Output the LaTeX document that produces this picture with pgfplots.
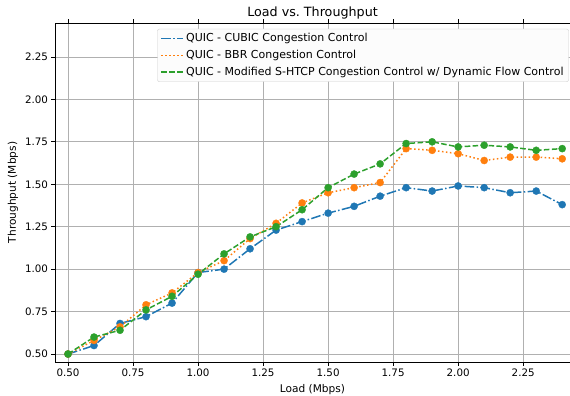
\documentclass[border=0pt]{standalone}
\usepackage{fontspec}
\setmainfont{DejaVu Sans}
\usepackage{pgfplots}
\pgfplotsset{compat=1.18}
\definecolor{cblue}{HTML}{1F77B4}
\definecolor{corange}{HTML}{FF7F0E}
\definecolor{cgreen}{HTML}{2CA02C}
\definecolor{gridgray}{HTML}{B0B0B0}
\definecolor{legedge}{HTML}{CCCCCC}
\definecolor{legfill}{HTML}{FCFCFC}
\pgfplotstableread{
x cubic bbr shtcp
0.5 0.50 0.50 0.50
0.6 0.55 0.58 0.60
0.7 0.68 0.66 0.64
0.8 0.72 0.79 0.76
0.9 0.80 0.86 0.84
1.0 0.98 0.98 0.97
1.1 1.00 1.05 1.09
1.2 1.12 1.18 1.19
1.3 1.23 1.27 1.25
1.4 1.28 1.39 1.35
1.5 1.33 1.45 1.48
1.6 1.37 1.48 1.56
1.7 1.43 1.51 1.62
1.8 1.48 1.71 1.74
1.9 1.46 1.70 1.75
2.0 1.49 1.68 1.72
2.1 1.48 1.64 1.73
2.2 1.45 1.66 1.72
2.3 1.46 1.66 1.70
2.4 1.38 1.65 1.71
}\datatable
\begin{document}
\begin{tikzpicture}
\begin{axis}[
  name=ax,
  scale only axis, width=515pt, height=339pt,
  xmin=0.45, xmax=2.43, ymin=0.453, ymax=2.45,
  xtick={0.5,0.75,1.0,1.25,1.5,1.75,2.0,2.25},
  ytick={0.5,0.75,1.0,1.25,1.5,1.75,2.0,2.25},
  xticklabel style={/pgf/number format/.cd, fixed, fixed zerofill, precision=2},
  yticklabel style={/pgf/number format/.cd, fixed, fixed zerofill, precision=2},
  /pgf/number format/assume math mode=true,
  tick label style={font=\fontsize{10.3}{12}\selectfont},
  grid=major, grid style={color=gridgray, line width=0.8pt},
  tick align=outside, major tick length=3.5pt,
  tick style={black, line width=0.8pt},
  axis line style={line width=0.8pt},
  title={Load vs.\ Throughput},
  title style={font=\fontsize{12.7}{15}\selectfont, yshift=-5.5pt},
  xlabel={Load (Mbps)}, ylabel={Throughput (Mbps)},
  label style={font=\fontsize{10.6}{12}\selectfont},
  xlabel style={yshift=-1pt},
  legend style={at={(0.9975,0.983)}, anchor=north east, draw=legedge,
    fill=legfill, rounded corners=2pt,
    font=\fontsize{11}{13}\selectfont, row sep=3pt, inner xsep=3pt, inner ysep=2.6pt},
  legend cell align=left,
]
\addlegendimage{legend image code/.code={\draw[cblue, line width=1.6pt, dash pattern=on 9.6pt off 2.4pt on 1.5pt off 2.4pt] (0pt,0pt) -- (22pt,0pt);}}
\addlegendentry{QUIC - CUBIC Congestion Control}
\addlegendimage{legend image code/.code={\draw[corange, line width=1.6pt, dash pattern=on 1.5pt off 2.5pt] (0pt,0pt) -- (22pt,0pt);}}
\addlegendentry{QUIC - BBR Congestion Control}
\addlegendimage{legend image code/.code={\draw[cgreen, line width=1.6pt, dash pattern=on 5.55pt off 2.4pt] (0pt,0pt) -- (22pt,0pt);}}
\addlegendentry{QUIC - Modified S-HTCP Congestion Control w/ Dynamic Flow Control}
\addplot[cblue, line width=1.5pt, dash pattern=on 9.6pt off 2.4pt on 1.5pt off 2.4pt, forget plot] table[x=x,y=cubic]{\datatable};
\addplot[cblue, only marks, mark=*, mark size=3.6pt, mark options={solid, fill=cblue, draw=cblue, line width=0.3pt}, forget plot] table[x=x,y=cubic]{\datatable};
\addplot[corange, line width=1.5pt, dash pattern=on 1.5pt off 2.5pt, forget plot] table[x=x,y=bbr]{\datatable};
\addplot[corange, only marks, mark=*, mark size=3.6pt, mark options={solid, fill=corange, draw=corange, line width=0.3pt}, forget plot] table[x=x,y=bbr]{\datatable};
\addplot[cgreen, line width=1.5pt, dash pattern=on 5.55pt off 2.4pt, forget plot] table[x=x,y=shtcp]{\datatable};
\addplot[cgreen, only marks, mark=*, mark size=3.6pt, mark options={solid, fill=cgreen, draw=cgreen, line width=0.3pt}, forget plot] table[x=x,y=shtcp]{\datatable};
\end{axis}
\pgfresetboundingbox
\path ([shift={(-55pt,-34pt)}]ax.south west) rectangle ([shift={(0pt,23pt)}]ax.north east);
\end{tikzpicture}
\end{document}
